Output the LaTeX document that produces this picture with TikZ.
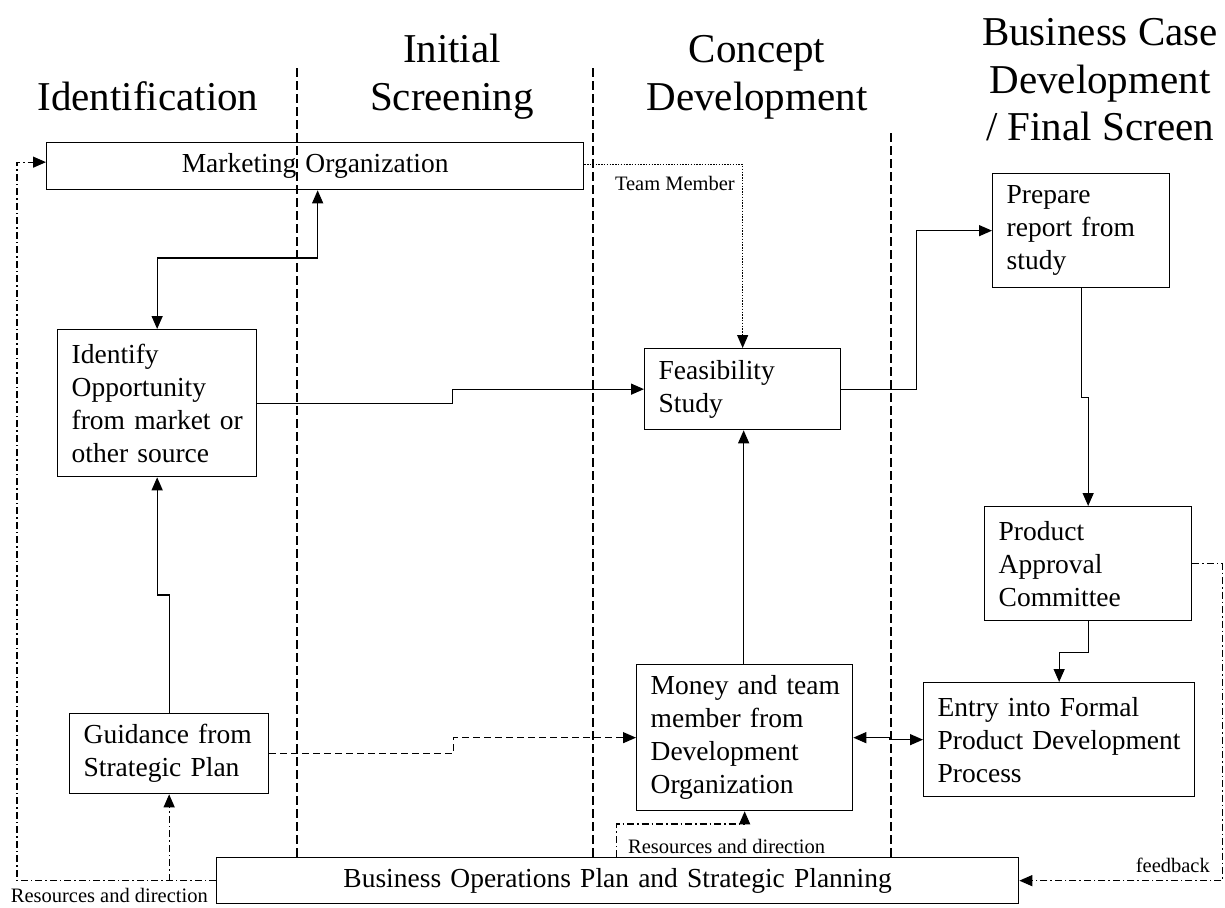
\documentclass[tikz,border=0pt]{standalone}
\usepackage{fontspec}
\setmainfont{Liberation Serif}
\usetikzlibrary{arrows.meta,calc}
\newcommand\boxfont{\fontsize{27.5pt}{33pt}\selectfont}
\newcommand\hdrfont{\fontsize{41pt}{47pt}\selectfont}
\newcommand\lblfont{\fontsize{20.5pt}{24pt}\selectfont}
\newcommand\bxl[1]{\mbox{#1}}
\begin{document}
\begin{tikzpicture}[x=1pt,y=-1pt,
  box/.style={draw, line width=1.3pt, rectangle, inner xsep=14pt, inner ysep=0pt, anchor=north west, align=left, font=\boxfont},
  hdr/.style={anchor=base, font=\hdrfont, inner sep=0pt},
  lbl/.style={font=\lblfont, inner sep=0pt},
  conn/.style={line width=1.3pt},
  tip/.style={-{Triangle[length=13pt,width=11pt]}},
  tips/.style={{Triangle[length=13pt,width=11pt]}-{Triangle[length=13pt,width=11pt]}},
  colline/.style={line width=1.1pt, dash pattern=on 9pt off 4pt},
  dotln/.style={line width=1.2pt, dash pattern=on 1.4pt off 1.4pt},
  dashln/.style={line width=1.2pt, dash pattern=on 7pt off 4pt},
  dashdot/.style={line width=1.2pt, dash pattern=on 7pt off 3pt on 1.5pt off 3pt}
]
\useasboundingbox (0,0) rectangle (1225,907);
\fill[white] (0,0) rectangle (1225,907);

% headers
\node[hdr] (h1) at (148,110) {Identification};
\node[hdr] (h2a) at (452,63) {Initial};
\node[hdr] (h2b) at (452,110) {Screening};
\node[hdr] (h3a) at (757,63) {Concept};
\node[hdr] (h3b) at (757,110) {Development};
\node[hdr] (h4a) at (1100,46) {Business Case};
\node[hdr] (h4b) at (1100,93) {Development};
\node[hdr] (h4c) at (1100,140) {/ Final Screen};

% column separators
\draw[colline] (297,68) -- (297,857);
\draw[colline] (593,68) -- (593,857);
\draw[colline] (891,133) -- (891,857);

% boxes
\node[box, align=center, minimum width=537pt, minimum height=47pt, text width=509pt] (mkt) at (46,142) {Marketing Organization};
\node[box, minimum width=199pt, minimum height=147pt, text width=171pt] (ident) at (57,329) {\bxl{Identify}\\\bxl{Opportunity}\\\bxl{from market or}\\\bxl{other source}};
\node[box, minimum width=196pt, minimum height=81pt, text width=168pt] (feas) at (644,348) {\bxl{Feasibility}\\\bxl{Study}};
\node[box, minimum width=177pt, minimum height=114pt, text width=149pt] (prep) at (992,173) {\bxl{Prepare}\\\bxl{report from}\\\bxl{study}};
\node[box, minimum width=207pt, minimum height=114pt, text width=179pt] (pac) at (984,506) {\bxl{Product}\\\bxl{Approval}\\\bxl{Committee}};
\node[box, minimum width=271pt, minimum height=114pt, text width=243pt] (entry) at (923,682) {\bxl{Entry into Formal}\\\bxl{Product Development}\\\bxl{Process}};
\node[box, minimum width=216pt, minimum height=146pt, text width=188pt] (money) at (636,664) {\bxl{Money and team}\\\bxl{member from}\\\bxl{Development}\\\bxl{Organization}};
\node[box, minimum width=199pt, minimum height=80pt, text width=171pt] (guide) at (69,713) {\bxl{Guidance from}\\\bxl{Strategic Plan}};
\node[box, align=center, minimum width=802pt, minimum height=46pt, text width=774pt] (bops) at (216,857) {Business Operations Plan and Strategic Planning};

% labels
\node[lbl, anchor=east] (lteam) at (735,183) {Team Member};
\node[lbl, anchor=west] (lres2) at (628,846) {Resources and direction};
\node[lbl, anchor=east] (lres1) at (208,895) {Resources and direction};
\node[lbl, anchor=east] (lfb) at (1210,865) {feedback};

% connectors
\draw[conn, tips] (ident.north) -- ++(0,-71) -| ([xshift=2.5pt]mkt.south);
\draw[conn, tip] (ident.east) -- ++(195,0) |- (feas.west);
\draw[dotln, tip] ([yshift=1.5pt]mkt.east) -| (feas.north);
\draw[conn, tip] (feas.east) -- ++(75,0) |- (prep.west);
\draw[conn, tip] (prep.south) -- ++(0,109) -| (pac.north);
\draw[conn, tip] (pac.south) -- ++(0,31) -| (entry.north);
\draw[conn, tip] ([xshift=-1pt]money.north) -- ([xshift=-1pt]money.north |- feas.south);
\draw[conn, tip] (guide.north) -- ++(0,-118) -| (ident.south);
\draw[dashln, tip] (guide.east) -- ++(184,0) |- (money.west);
\draw[conn, tips] (money.east) -- ++(36,0) |- (entry.west);
\draw[dashdot, tip] ([xshift=-1pt]bops.north) -- ++(0,-33) -| (money.south);
\coordinate (jn) at (guide.south |- bops.west);
\draw[dashdot, tip] (bops.west) -- ++(-199,0) |- ([yshift=4pt]mkt.west);
\draw[dashdot, tip] (jn) -- (guide.south);
\draw[dashdot, tip] (pac.east) -- ++(30,0) |- (bops.east);
\end{tikzpicture}
\end{document}
